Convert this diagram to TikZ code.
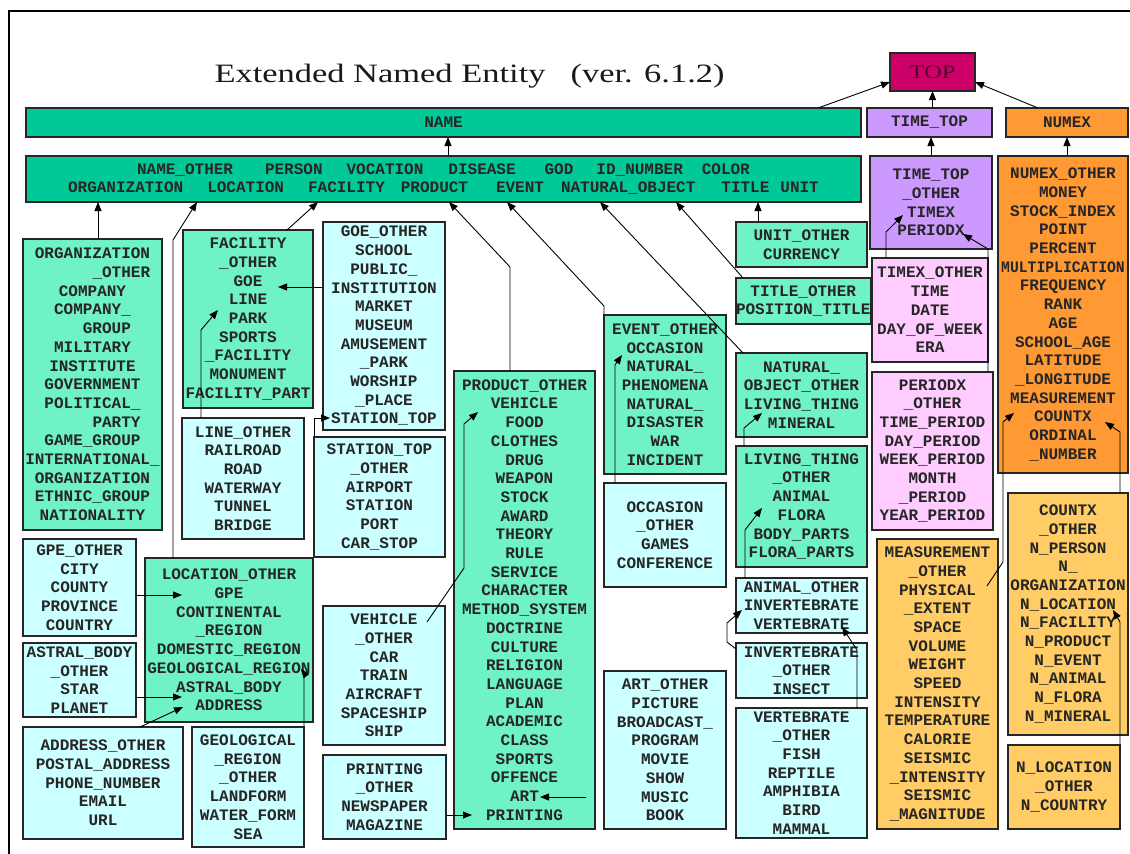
\documentclass[tikz,border=0pt]{standalone}
\usepackage{fontspec}
\usetikzlibrary{arrows.meta}

\newfontfamily\boxfont{Liberation Mono}
\newfontfamily\titlefont{Liberation Serif}[FakeStretch=1.3]

\definecolor{topc}{HTML}{CC0066}
\definecolor{toptx}{HTML}{5A0030}
\definecolor{namec}{HTML}{00C896}
\definecolor{kidc}{HTML}{70F2C8}
\definecolor{cyanc}{HTML}{CCFFFF}
\definecolor{lavc}{HTML}{CC99FF}
\definecolor{pinkc}{HTML}{FFCCFF}
\definecolor{numc}{HTML}{FF9933}
\definecolor{lnumc}{HTML}{FFCC66}

\begin{document}
\begin{tikzpicture}[x=1pt, y=-1pt,
		bx/.style={draw=black!85, line width=1.4pt, anchor=north west, inner sep=0pt, outer sep=0pt,
			align=center, text=black!85, font=\boxfont\bfseries\fontsize{16}{18.7}\selectfont},
		sz/.style 2 args={minimum width=#1, minimum height=#2},
		namebox/.style={bx, fill=namec},
		gbox/.style={bx, fill=kidc},
		cbox/.style={bx, fill=cyanc},
		lbox/.style={bx, fill=lavc},
		pbox/.style={bx, fill=pinkc},
		obox/.style={bx, fill=numc},
		lobox/.style={bx, fill=lnumc},
		arr/.style={-{Triangle[length=9pt,width=7pt]}, line width=0.9pt, black}]
				\useasboundingbox (0,0) rectangle (1130,854);

				% Frame
				\draw[line width=2.5] (9,854) -- (9,11) -- (1130,11);

				% Heading
				\node[anchor=base west, text=black!90, font=\titlefont\fontsize{26.5}{30}\selectfont] (heading) at (211,82)
					{Extended Named Entity\hspace{25pt}(ver. 6.1.2)};

				% Top levels
				\node[bx, fill=topc, text=toptx, sz={85}{38}, font=\titlefont\fontsize{19}{20}\selectfont] (top) at (890,53) {TOP};
				\node[namebox, sz={835}{29}] (name) at (26,108) {NAME};
				\node[lbox, sz={125}{29}] (timetop) at (867,108) {TIME\_TOP};
				\node[obox, sz={122}{29}] (numex) at (1006,108) {NUMEX};

				\node[namebox, sz={835}{46}] (kids) at (26,156)
					{NAME\_OTHER\hspace{32pt}PERSON\hspace{24pt}VOCATION\hspace{25pt}DISEASE\hspace{29pt}GOD\hspace{23pt}ID\_NUMBER\hspace{19pt}COLOR\\
					ORGANIZATION\hspace{24pt}LOCATION\hspace{24pt}FACILITY\hspace{16pt}PRODUCT\hspace{28pt}EVENT\hspace{17pt}NATURAL\_OBJECT\hspace{26pt}TITLE\hspace{11pt}UNIT};
				\node[lbox, sz={122}{93}] (ttkids) at (870,156) {TIME\_TOP\\\_OTHER\\TIMEX\\PERIODX};
				\node[obox, sz={130}{317}] (nxkids) at (998,156)
					{NUMEX\_OTHER\\MONEY\\STOCK\_INDEX\\POINT\\PERCENT\\\scalebox{0.92}[1]{MULTIPLICATION}\\FREQUENCY\\RANK\\AGE\\SCHOOL\_AGE\\LATITUDE\\\_LONGITUDE\\MEASUREMENT\\COUNTX\\ORDINAL\\\_NUMBER};

				% Organization, facility, location
				\node[gbox, sz={139}{291}] (org) at (23,239)
					{ORGANIZATION\\\hphantom{ORGANI}\_OTHER\\COMPANY\\COMPANY\_\\\hphantom{COM}GROUP\\MILITARY\\INSTITUTE\\GOVERNMENT\\POLITICAL\_\\\hphantom{POLIT}PARTY\\GAME\_GROUP\\INTERNATIONAL\_\\ORGANIZATION\\ETHNIC\_GROUP\\NATIONALITY};
				\node[gbox, sz={130}{178}] (fac) at (183,230)
					{FACILITY\\\_OTHER\\GOE\\LINE\\PARK\\SPORTS\\\_FACILITY\\MONUMENT\\FACILITY\_PART};
				\node[cbox, sz={122}{208}] (goe) at (323,222)
					{GOE\_OTHER\\SCHOOL\\PUBLIC\_\\INSTITUTION\\MARKET\\MUSEUM\\AMUSEMENT\\\_PARK\\WORSHIP\\\_PLACE\\STATION\_TOP};
				\node[cbox, sz={122}{121}] (lineo) at (182,418) {LINE\_OTHER\\RAILROAD\\ROAD\\WATERWAY\\TUNNEL\\BRIDGE};
				\node[cbox, sz={131}{120}] (stat) at (314,437) {STATION\_TOP\\\_OTHER\\AIRPORT\\STATION\\PORT\\CAR\_STOP};
				\node[cbox, sz={113}{97}] (gpe) at (23,539) {GPE\_OTHER\\CITY\\COUNTY\\PROVINCE\\COUNTRY};
				\node[gbox, sz={168}{164}] (loc) at (145,558)
					{LOCATION\_OTHER\\GPE\\CONTINENTAL\\\_REGION\\DOMESTIC\_REGION\\GEOLOGICAL\_REGION\\ASTRAL\_BODY\\ADDRESS};
				\node[cbox, sz={113}{74}] (astral) at (23,643) {ASTRAL\_BODY\\\_OTHER\\STAR\\PLANET};
				\node[cbox, sz={160}{112}] (addr) at (23,727) {ADDRESS\_OTHER\\POSTAL\_ADDRESS\\PHONE\_NUMBER\\EMAIL\\URL};
				\node[cbox, sz={112}{120}] (geo) at (192,727) {GEOLOGICAL\\\_REGION\\\_OTHER\\LANDFORM\\WATER\_FORM\\SEA};

				% Product, event
				\node[gbox, sz={141}{458}] (prod) at (454,371)
					{PRODUCT\_OTHER\\VEHICLE\\FOOD\\CLOTHES\\DRUG\\WEAPON\\STOCK\\AWARD\\THEORY\\RULE\\SERVICE\\CHARACTER\\METHOD\_SYSTEM\\DOCTRINE\\CULTURE\\RELIGION\\LANGUAGE\\PLAN\\ACADEMIC\\CLASS\\SPORTS\\OFFENCE\\ART\\PRINTING};
				\node[cbox, sz={122}{139}] (veh) at (323,606) {VEHICLE\\\_OTHER\\CAR\\TRAIN\\AIRCRAFT\\SPACESHIP\\SHIP};
				\node[cbox, sz={123}{84}] (print) at (323,755) {PRINTING\\\_OTHER\\NEWSPAPER\\MAGAZINE};
				\node[gbox, sz={122}{159}] (event) at (604,315)
					{EVENT\_OTHER\\OCCASION\\NATURAL\_\\PHENOMENA\\NATURAL\_\\DISASTER\\WAR\\INCIDENT};
				\node[cbox, sz={122}{104}] (occ) at (604,483) {OCCASION\\\_OTHER\\GAMES\\CONFERENCE};
				\node[cbox, sz={122}{158}] (art) at (604,671) {ART\_OTHER\\PICTURE\\BROADCAST\_\\PROGRAM\\MOVIE\\SHOW\\MUSIC\\BOOK};

				% Unit, title, natural object
				\node[gbox, sz={131}{45}] (unit) at (736,222) {UNIT\_OTHER\\CURRENCY};
				\node[gbox, sz={131}{46}] (title) at (736,278) {TITLE\_OTHER\\POSITION\_TITLE};
				\node[gbox, sz={131}{84}] (nat) at (736,353) {NATURAL\_\\OBJECT\_OTHER\\LIVING\_THING\\MINERAL};
				\node[gbox, sz={131}{121}] (living) at (736,446) {LIVING\_THING\\\_OTHER\\ANIMAL\\FLORA\\BODY\_PARTS\\FLORA\_PARTS};
				\node[cbox, sz={131}{55}] (animal) at (736,578) {ANIMAL\_OTHER\\INVERTEBRATE\\VERTEBRATE};
				\node[cbox, sz={131}{55}] (invert) at (736,643) {INVERTEBRATE\\\_OTHER\\INSECT};
				\node[cbox, sz={131}{130}] (vert) at (736,708) {VERTEBRATE\\\_OTHER\\FISH\\REPTILE\\AMPHIBIA\\BIRD\\MAMMAL};

				% Time and numex
				\node[pbox, sz={116}{104}] (timex) at (872,258) {TIMEX\_OTHER\\TIME\\DATE\\DAY\_OF\_WEEK\\ERA};
				\node[pbox, sz={121}{158}] (periodx) at (872,372)
					{PERIODX\\\_OTHER\\TIME\_PERIOD\\DAY\_PERIOD\\WEEK\_PERIOD\\MONTH\\\_PERIOD\\YEAR\_PERIOD};
				\node[lobox, sz={121}{290}] (meas) at (877,539)
					{MEASUREMENT\\\_OTHER\\PHYSICAL\\\_EXTENT\\SPACE\\VOLUME\\WEIGHT\\SPEED\\INTENSITY\\TEMPERATURE\\CALORIE\\SEISMIC\\\_INTENSITY\\SEISMIC\\\_MAGNITUDE};
				\node[lobox, sz={120}{242}] (countx) at (1008,493)
					{COUNTX\\\_OTHER\\N\_PERSON\\N\_\\ORGANIZATION\\N\_LOCATION\\N\_FACILITY\\N\_PRODUCT\\N\_EVENT\\N\_ANIMAL\\N\_FLORA\\N\_MINERAL};
				\node[lobox, sz={112}{84}] (nloc) at (1008,745) {N\_LOCATION\\\_OTHER\\N\_COUNTRY};

				% Points on the name bar
				\coordinate (kOrg) at ([xshift=72]kids.south west);
				\coordinate (kLoc) at ([xshift=171]kids.south west);
				\coordinate (kFac) at ([xshift=292]kids.south west);
				\coordinate (kPro) at ([xshift=423]kids.south west);
				\coordinate (kEvt) at ([xshift=481]kids.south west);
				\coordinate (kNat) at ([xshift=574]kids.south west);
				\coordinate (kTit) at ([xshift=650]kids.south west);
				\coordinate (kUni) at ([xshift=732]kids.south west);

				% Points on the text lines
				\coordinate (tGoe) at (278,287);
				\coordinate (tLine) at (218,310);
				\coordinate (tSta) at (330,418);
				\coordinate (tGpe) at (182,595);
				\coordinate (tAst) at (182,697);
				\coordinate (tAdr) at (183,707);
				\coordinate (tGeo) at (301,669);
				\coordinate (tVeh) at (478,412);
				\coordinate (tPri) at (472,815);
				\coordinate (tArt) at (540,797);
				\coordinate (tOcc) at (622,355);
				\coordinate (tLiv) at (762,413);
				\coordinate (tAni) at (762,508);
				\coordinate (tInv) at (742,610);
				\coordinate (tVer) at (842,627);
				\coordinate (tTmx) at (903,215);
				\coordinate (tPdx) at (963,234);
				\coordinate (tMea) at (1014,413);
				\coordinate (tCnt) at (1105,422);
				\coordinate (tNlo) at (1113,610);

				% Upper links
				\draw[arr] ([xshift=-43]name.north east) -- ([yshift=9]top.south west);
				\draw[arr] (top.south |- timetop.north) -- (top.south);
				\draw[arr] ([xshift=32]numex.north west) -- ([yshift=9]top.south east);
				\draw[arr] ([xshift=422]kids.north west) -- ([xshift=422]name.south west);
				\draw[arr] (ttkids.north) -- (ttkids.north |- timetop.south);
				\draw[arr] (numex.south |- nxkids.north) -- (numex.south);

				% Links to the name bar
				\draw[arr] (org.north -| kOrg) -- (kOrg);
				\draw[arr] ([xshift=28]loc.north west) -- ++(0,-318) -- (kLoc);
				\draw[arr] ([xshift=104]fac.north west) -- (kFac);
				\draw[arr] ([xshift=56]prod.north west) -- ++(0,-104) -- (kPro);
				\draw[arr] (event.north west) -- ++(0,-9) -- (kEvt);
				\draw[arr] ([xshift=7]nat.north west) -- (kNat);
				\draw[arr] ([xshift=7]title.north west) -- (kTit);
				\draw[arr] (unit.north -| kUni) -- (kUni);

				% Links into the boxes
				\draw[arr] (goe.west |- tGoe) -- (tGoe);
				\draw[arr] ([xshift=19]lineo.north west) -- ++(0,-88) -- (tLine);
				\draw[arr] (stat.north west) -- ++(0,-19) -- (tSta);
				\draw[arr] (gpe.east |- tGpe) -- (tGpe);
				\draw[arr] (astral.east |- tAst) -- (tAst);
				\draw[arr] ([xshift=117]addr.north west) -- (tAdr);
				\draw[arr] (geo.north east) -- ++(0,-54) -- (tGeo);
				\draw[arr] ([xshift=104,yshift=-16]veh.north west) -- ++(37,-54) -- ++(0,-144) -- (tVeh);
				\draw[arr] (print.east |- tPri) -- (tPri);
				\draw[arr, shorten <=18] (art.west |- tArt) -- (tArt);
				\draw[arr] ([xshift=11]occ.north west) -- ++(0,-118) -- (tOcc);
				\draw[arr] ([xshift=8]living.north west) -- ++(0,-18) -- (tLiv);
				\draw[arr] ([xshift=9]animal.north west) -- ++(0,-48) -- (tAni);
				\draw[arr] ([yshift=-6]invert.north west) -- ++(-9,-7) -- ++(0,-19) -- (tInv);
				\draw[arr] ([xshift=-10]vert.north east) -- ++(0,-58) -- (tVer);
				\draw[arr] ([xshift=14]timex.north west) -- ++(0,-26) -- (tTmx);
				\draw[arr] ([xshift=116]periodx.north west) -- ++(0,-123) -- (tPdx);
				\draw[arr] ([xshift=110,yshift=-47]meas.north west) -- ++(16,-24) -- ++(0,-140) -- (tMea);
				\draw[arr] ([xshift=112]countx.north west) -- ++(0,-61) -- (tCnt);
				\draw[arr] (nloc.north east) -- ++(0,-123) -- (tNlo);
\end{tikzpicture}
\end{document}
